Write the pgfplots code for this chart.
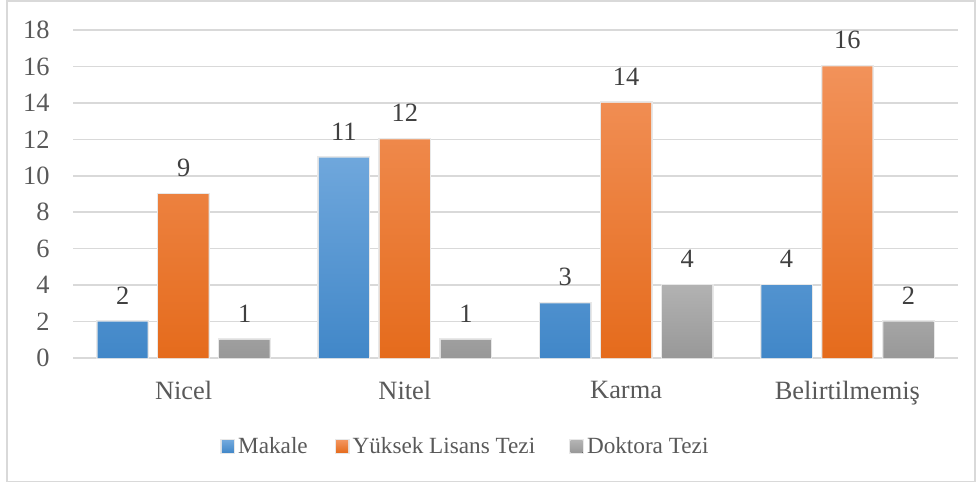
\documentclass[border=0pt]{standalone}
\usepackage{pgfplots}
\pgfplotsset{compat=1.18}
\usepackage{fontspec}
\setmainfont{Liberation Serif}
\definecolor{txt}{HTML}{595959}
\definecolor{lbl}{HTML}{404040}
\definecolor{gridc}{HTML}{D9D9D9}
\definecolor{bTop}{HTML}{6FA7DC}
\definecolor{bBot}{HTML}{4187C8}
\definecolor{oTop}{HTML}{F2925A}
\definecolor{oBot}{HTML}{E56B1C}
\definecolor{gTop}{HTML}{B2B2B2}
\definecolor{gBot}{HTML}{989898}
\newcommand{\fs}{\fontsize{13.2pt}{15pt}\selectfont}
\newcommand{\fl}{\fontsize{11.6pt}{14pt}\selectfont}
\pgfplotsset{
  mybar/.style n args={2}{ybar, draw=none, bar width=25pt,
    top color=#1, bottom color=#2,
    preaction={draw=black!9, line width=1.4pt},
    legend image code/.code={\fill[top color=#1, bottom color=#2] (0pt,-3pt) rectangle (6pt,3pt);}},
}
\begin{document}
\begin{tikzpicture}
\useasboundingbox (-36.5pt,-62.5pt) rectangle (451.5pt,179pt);
\draw[gridc, line width=0.75pt] (-33pt,-61.8pt) rectangle (451pt,178.6pt);
\begin{axis}[
  at={(0,0)}, anchor=south west,
  x=110.625pt, y=9.1111pt,
  xmin=-0.5, xmax=3.5, ymin=0, ymax=18,
  ytick={0,2,...,18},
  xtick=data, xticklabels={Nicel,Nitel,Karma,Belirtilmemiş},
  ymajorgrids, major grid style={gridc, line width=0.75pt},
  axis x line*=bottom, axis y line*=left,
  x axis line style={gridc, line width=0.75pt, -},
  y axis line style={draw=none},
  major tick length=0pt,
  tick style={draw=none},
  ticklabel style={font=\fs, text=txt},
  yticklabel style={inner sep=0pt, xshift=-11.5pt},
  xticklabel style={inner sep=0pt, yshift=-11.5pt},
  /pgf/number format/assume math mode=true,
  ybar, bar width=25pt,
  nodes near coords,
  every node near coord/.append style={font=\fs, text=lbl, inner sep=0pt, yshift=8.5pt},
  legend columns=3,
  legend style={at={(0.1661,-0.271)}, anchor=west, draw=none, inner sep=0pt,
    font=\fl, text=txt, nodes={inner sep=0pt},
    /tikz/every odd column/.append style={column sep=1.5pt},
    /tikz/column 2/.style={column sep=13.5pt},
    /tikz/column 4/.style={column sep=17pt}},
  clip=false,
]
\addplot[mybar={bTop}{bBot}, bar shift=-30.5pt]
  coordinates {(0,2) (1,11) (2,3) (3,4)};
\addplot[mybar={oTop}{oBot}, bar shift=0pt]
  coordinates {(0,9) (1,12) (2,14) (3,16)};
\addplot[mybar={gTop}{gBot}, bar shift=30.5pt]
  coordinates {(0,1) (1,1) (2,4) (3,2)};
\legend{Makale, Yüksek Lisans Tezi, Doktora Tezi}
\end{axis}
\end{tikzpicture}
\end{document}
